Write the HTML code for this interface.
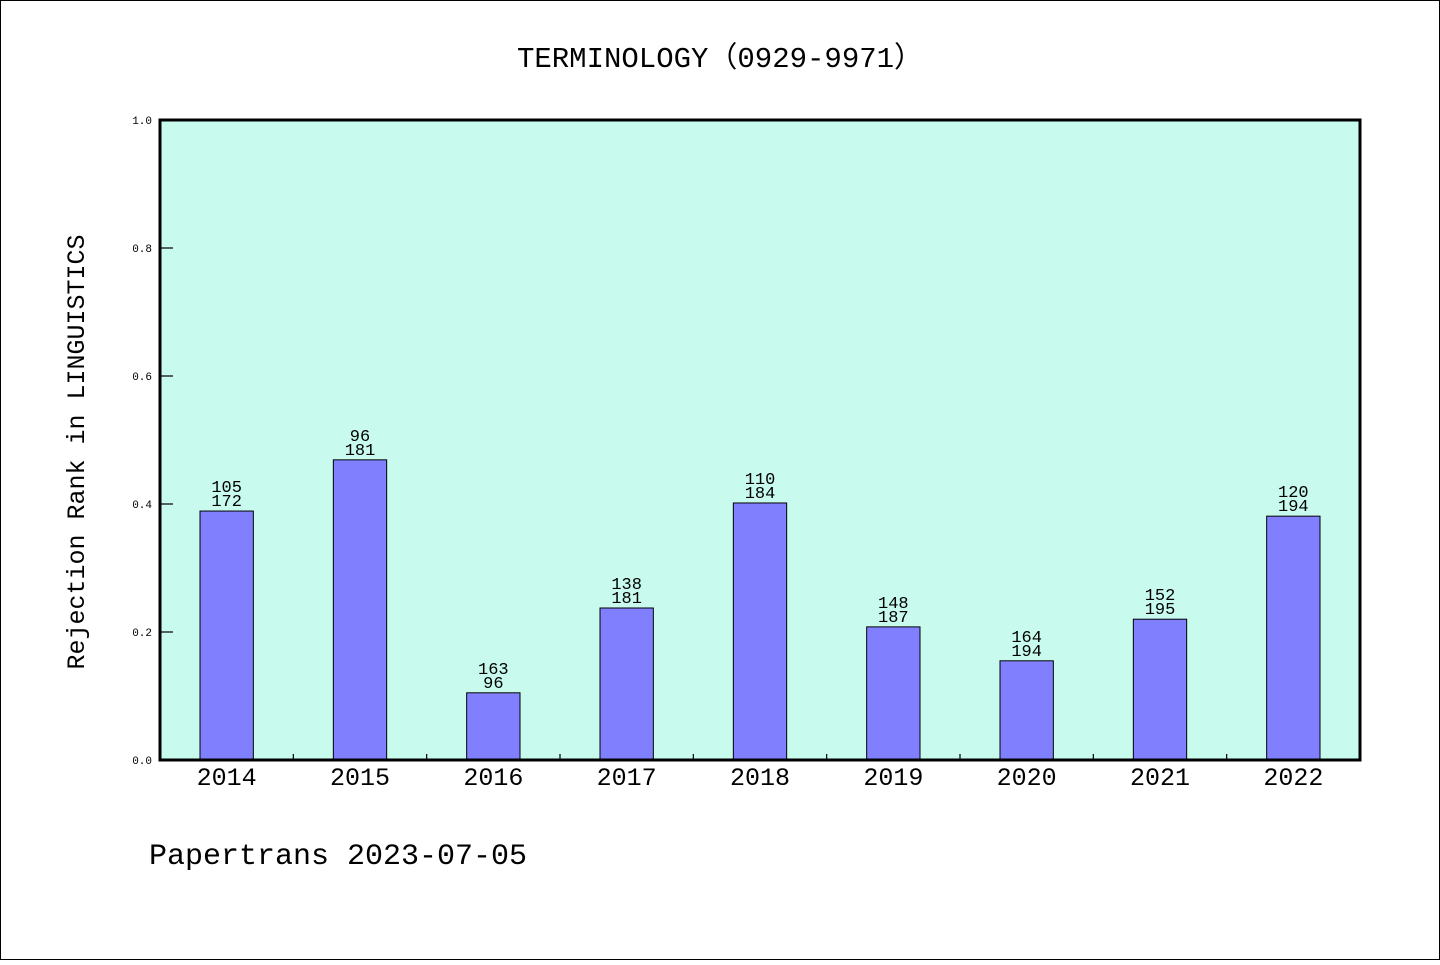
<!DOCTYPE html>
<html><head><meta charset="utf-8"><style>
html,body{margin:0;padding:0;background:#fff}
svg text{font-family:"Liberation Mono","WenQuanYi Zen Hei",monospace}
</style></head><body>
<svg id="chart" width="1440" height="960" viewBox="0 0 1440 960" xmlns="http://www.w3.org/2000/svg">
<rect x="0.5" y="0.5" width="1439" height="959" fill="#fff" stroke="#000" stroke-width="1"/>
<text x="720" y="67" text-anchor="middle" font-size="29">TERMINOLOGY（0929-9971）</text>
<rect x="160" y="120" width="1200" height="640" fill="#c8fbee"/>
<g id="marks"></g>
<rect x="160" y="120" width="1200" height="640" fill="none" stroke="#000" stroke-width="3"/>
<text transform="translate(84,452) rotate(-90)" text-anchor="middle" font-size="25">Rejection Rank in LINGUISTICS</text>
<text x="149" y="864" font-size="30">Papertrans 2023-07-05</text>
</svg>
<script>
const categories=["2014","2015","2016","2017","2018","2019","2020","2021","2022"];
const values=[0.389,0.469,0.105,0.2375,0.4016,0.208,0.155,0.220,0.381];
const labelTop=["105","96","163","138","110","148","164","152","120"];
const labelBottom=["172","181","96","181","184","187","194","195","194"];
const yTicks=[0,0.2,0.4,0.6,0.8,1.0];
const yTickLabels=["0.0","0.2","0.4","0.6","0.8","1.0"];

const X0=160,W=1200,Y0=760,H=640;
const band=W/categories.length;
const xC=i=>X0+band*(i+0.5);
const yS=v=>Y0-v*H;
const NS="http://www.w3.org/2000/svg";
const g=document.getElementById('marks');
function mk(tag,attrs,text){const e=document.createElementNS(NS,tag);for(const k in attrs)e.setAttribute(k,attrs[k]);if(text!==undefined)e.textContent=text;g.appendChild(e);return e;}

yTicks.forEach((t,i)=>{
  const y=yS(t);
  if(t>0&&t<1){const l=mk('line',{x1:160,x2:173,y1:y,y2:y,stroke:'#000','stroke-width':1.2});
  
  }
  const tx=mk('text',{x:152,y:y+4,'text-anchor':'end','font-size':11},yTickLabels[i]);
  
  
});
for(let i=1;i<categories.length;i++){
  const x=X0+band*i;
  const l=mk('line',{x1:x,x2:x,y1:760,y2:754,stroke:'#000','stroke-width':1.2});
  
  
}
const bw=band*0.4;
categories.forEach((c,i)=>{
  const x=xC(i),y=yS(values[i]);
  const r=mk('rect',{x:x-bw/2,y:y,width:bw,height:Y0-y,fill:'#8080ff',stroke:'#000','stroke-width':1});
  
  
  const t1=mk('text',{x:x,y:y-19,'text-anchor':'middle','font-size':17},labelTop[i]);
  
  
  const t2=mk('text',{x:x,y:y-5,'text-anchor':'middle','font-size':17},labelBottom[i]);
  
  
  const xl=mk('text',{x:x,y:785,'text-anchor':'middle','font-size':25},c);
  
  
});
</script>
</body></html>
